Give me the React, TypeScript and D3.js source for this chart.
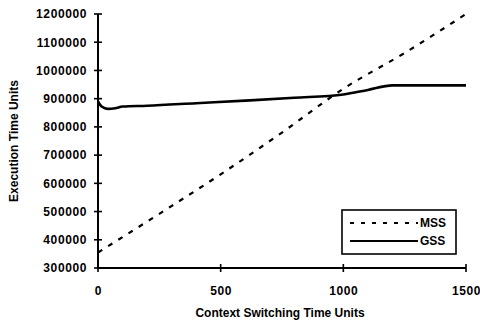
import React, { useRef, useEffect } from 'react';
import * as d3 from 'd3';

// Context switching time units (x) and execution time units (y)
const mssX = [0, 250, 500, 750, 1000, 1250, 1500];
const mssY = [355000, 492000, 632000, 780000, 935000, 1062000, 1200000];

const gssX = [0, 15, 40, 70, 100, 200, 400, 600, 800, 1000, 1100, 1200, 1300, 1500];
const gssY = [890000, 872000, 864000, 866000, 872000, 875000, 884000, 893000, 903000, 915000, 931000, 947000, 947000, 947000];

const xTicks = [0, 500, 1000, 1500];
const yTicks = [300000, 400000, 500000, 600000, 700000, 800000, 900000, 1000000, 1100000, 1200000];

const seriesNames = ['MSS', 'GSS'];

const width = 480;
const height = 324;
const margin = { top: 14, right: 14, bottom: 56, left: 98 };

const App: React.FC = () => {
  const svgRef = useRef<SVGSVGElement>(null);

  useEffect(() => {
    const svg = d3.select(svgRef.current);
    svg.selectAll('*').remove();

    const innerWidth = width - margin.left - margin.right;
    const innerHeight = height - margin.top - margin.bottom;
    const font = 'Liberation Sans, Arial, sans-serif';

    const g = svg.append('g').attr('transform', `translate(${margin.left}, ${margin.top})`);

    const xScale = d3.scaleLinear().domain([0, 1500]).range([0, innerWidth]);
    const yScale = d3.scaleLinear().domain([300000, 1200000]).range([innerHeight, 0]);

    // Axes: ticks cross the axis line
    const xAxis = g.append('g')
      .attr('transform', `translate(0, ${innerHeight})`)
      .call(d3.axisBottom(xScale).tickValues(xTicks).tickSize(0).tickPadding(18).tickFormat(d3.format('d')));
    xAxis.select('.domain').remove();
    xAxis.selectAll('.tick text')
      .style('font-family', font).style('font-size', '12px').style('font-weight', 'bold')
      .style('letter-spacing', '0.6px').attr('fill', '#000');

    const yAxis = g.append('g')
      .call(d3.axisLeft(yScale).tickValues(yTicks).tickSize(0).tickPadding(11).tickFormat(d3.format('d')));
    yAxis.select('.domain').remove();
    yAxis.selectAll('.tick text')
      .style('font-family', font).style('font-size', '12px').style('font-weight', 'bold')
      .style('letter-spacing', '0.6px').attr('fill', '#000');

    // Axis lines
    g.append('line')
      .attr('x1', 0).attr('x2', innerWidth)
      .attr('y1', innerHeight).attr('y2', innerHeight)
      .attr('stroke', '#000').attr('stroke-width', 2);
    g.append('line')
      .attr('x1', 0).attr('x2', 0)
      .attr('y1', 0).attr('y2', innerHeight)
      .attr('stroke', '#000').attr('stroke-width', 2);

    // Tick marks
    g.selectAll('.xt')
      .data(xTicks)
      .enter().append('line')
      .attr('x1', d => xScale(d)).attr('x2', d => xScale(d))
      .attr('y1', innerHeight - 4).attr('y2', innerHeight + 4)
      .attr('stroke', '#000').attr('stroke-width', 1.6);
    g.selectAll('.yt')
      .data(yTicks)
      .enter().append('line')
      .attr('x1', -4).attr('x2', 4)
      .attr('y1', d => yScale(d)).attr('y2', d => yScale(d))
      .attr('stroke', '#000').attr('stroke-width', 1.6);

    // Lines
    const mssLine = d3.line<number>()
      .x((_, i) => xScale(mssX[i]))
      .y(d => yScale(d))
      .curve(d3.curveMonotoneX);
    const gssLine = d3.line<number>()
      .x((_, i) => xScale(gssX[i]))
      .y(d => yScale(d))
      .curve(d3.curveMonotoneX);

    g.append('path')
      .attr('d', mssLine(mssY))
      .attr('fill', 'none')
      .attr('stroke', '#000')
      .attr('stroke-width', 2.2)
      .attr('stroke-dasharray', '5,7');

    g.append('path')
      .attr('d', gssLine(gssY))
      .attr('fill', 'none')
      .attr('stroke', '#000')
      .attr('stroke-width', 2.6);

    // Axis titles
    svg.append('text')
      .attr('x', margin.left + innerWidth / 2 - 2)
      .attr('y', 317)
      .attr('text-anchor', 'middle')
      .style('font-family', font).style('font-size', '12px').style('font-weight', 'bold')
      .text('Context Switching Time Units');

    svg.append('text')
      .attr('transform', `translate(18, ${margin.top + innerHeight / 2}) rotate(-90)`)
      .attr('text-anchor', 'middle')
      .style('font-family', font).style('font-size', '12px').style('font-weight', 'bold')
      .text('Execution Time Units');

    // Legend
    const legend = svg.append('g').attr('transform', 'translate(342, 210)');
    legend.append('rect')
      .attr('width', 114).attr('height', 44)
      .attr('fill', '#fff').attr('stroke', '#000').attr('stroke-width', 1.6);
    seriesNames.forEach((name, i) => {
      const y = 13 + i * 18;
      legend.append('line')
        .attr('x1', 8).attr('x2', 76)
        .attr('y1', y).attr('y2', y)
        .attr('stroke', '#000')
        .attr('stroke-width', i === 0 ? 2.2 : 2)
        .attr('stroke-dasharray', i === 0 ? '4,7' : null);
      legend.append('text')
        .attr('x', 78).attr('y', y + 4)
        .style('font-family', font).style('font-size', '12px').style('font-weight', 'bold')
        .text(name);
    });
  }, []);

  return (
    <div style={{ position: 'absolute', left: 0, top: 0, background: '#fff' }}>
      <svg ref={svgRef} width={width} height={height} />
    </div>
  );
};

export default App;
